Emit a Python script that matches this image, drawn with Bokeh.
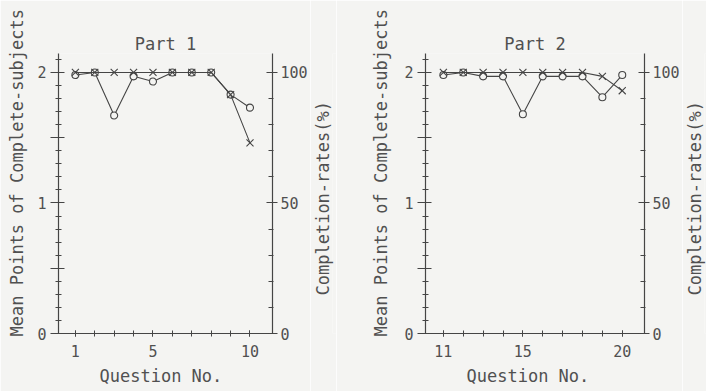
import math
from bokeh.plotting import figure
from bokeh.models import Range1d, LinearAxis, FixedTicker, Title
from bokeh.layouts import row
from bokeh.embed import file_html
from bokeh.resources import INLINE

# ---- data ----
part1_q = [1, 2, 3, 4, 5, 6, 7, 8, 9, 10]
part1_mean = [1.98, 2.0, 1.67, 1.97, 1.93, 2.0, 2.0, 2.0, 1.83, 1.73]
part1_rate = [100, 100, 100, 100, 100, 100, 100, 100, 91.5, 73]

part2_q = [11, 12, 13, 14, 15, 16, 17, 18, 19, 20]
part2_mean = [1.98, 2.0, 1.97, 1.97, 1.68, 1.97, 1.97, 1.97, 1.81, 1.98]
part2_rate = [100, 100, 100, 100, 100, 100, 100, 100, 98.5, 93]

part1_xlabels = {1: "1", 5: "5", 10: "10"}
part2_xlabels = {11: "11", 15: "15", 20: "20"}

FONT = "DejaVu Sans Mono"
TXT = "#505050"
LINE = "#454545"
BG = "#f4f4f2"
H = 391
TOP = 53
BOTTOM = 333


def text_title(text, **kw):
    return Title(text=text, text_font=FONT, text_font_size="17px",
                 text_font_style="normal", text_color=TXT, **kw)


def panel(qs, mean, rate, xlabels, title, width, win_left, frame_l, frame_r, xr, ylab_standoff):
    p = figure(width=width, height=H, output_backend="svg", toolbar_location=None,
               title=None,
               x_range=Range1d(*xr), y_range=Range1d(0, 2.145),
               min_border_left=frame_l - win_left, min_border_right=win_left + width - frame_r,
               min_border_top=TOP, min_border_bottom=H - BOTTOM,
               background_fill_color=BG, border_fill_color=BG, outline_line_color=None)
    p.grid.visible = False
    p.extra_y_ranges = {"rate": Range1d(0, 2.145 * 50)}

    # panel title, then an invisible spacer between it and the frame
    p.add_layout(text_title(title, align="center", standoff=0), "above")
    p.add_layout(Title(text=".", text_alpha=0, text_font=FONT, text_font_size="17px",
                       standoff=4), "above")

    # x axis
    xa = p.xaxis[0]
    xa.ticker = FixedTicker(ticks=list(xlabels.keys()), minor_ticks=qs)
    xa.major_label_overrides = {k: v for k, v in xlabels.items()}
    xa.major_tick_in = 3
    xa.major_tick_out = 3
    xa.minor_tick_in = 3
    xa.minor_tick_out = 3
    xa.major_label_standoff = 8

    # left axis
    ya = p.yaxis[0]
    ya.ticker = FixedTicker(ticks=[0, 0.5, 1, 1.5, 2],
                            minor_ticks=[i / 10 for i in range(0, 22)])
    ya.major_label_overrides = {0: "0", 0.5: "", 1: "1", 1.5: "", 2: "2"}
    ya.major_tick_in = 6
    ya.major_tick_out = 8
    ya.minor_tick_in = 3
    ya.minor_tick_out = 3
    ya.major_label_standoff = 4

    # right axis
    ra = LinearAxis(y_range_name="rate")
    ra.ticker = FixedTicker(ticks=[0, 50, 100], minor_ticks=list(range(0, 110, 10)))
    ra.major_tick_in = 6
    ra.major_tick_out = 5
    ra.minor_tick_in = 4
    ra.minor_tick_out = 1
    ra.major_label_standoff = 3
    p.add_layout(ra, "right")

    for ax in [xa, ya, ra]:
        ax.axis_line_color = LINE
        ax.major_tick_line_color = LINE
        ax.minor_tick_line_color = LINE
        ax.axis_line_width = 1.2
        ax.major_label_text_font = FONT
        ax.major_label_text_font_size = "15px"
        ax.major_label_text_color = TXT

    p.add_layout(text_title("Mean Points of Complete-subjects", align="left", offset=-3,
                            standoff=ylab_standoff, vertical_align="top"), "left")
    p.add_layout(text_title("Question No.", align="left", offset=41, standoff=9), "below")

    # data
    p.line(qs, mean, line_color=LINE, line_width=1.1)
    p.scatter(qs, mean, marker="circle", size=7, fill_color=BG, line_color=LINE, line_width=1.1)
    p.line(qs, rate, y_range_name="rate", line_color=LINE, line_width=1.1)
    p.scatter(qs, rate, y_range_name="rate", marker="x", size=10, line_color=LINE, line_width=1.1)
    return p


def side_label(text, width):
    # narrow strip that carries the right-hand axis title, read bottom-to-top
    s = figure(width=width, height=H, output_backend="svg", toolbar_location=None,
               x_range=Range1d(0, 1), y_range=Range1d(0, 1),
               x_axis_location=None, y_axis_location=None,
               min_border_left=0, min_border_right=0,
               min_border_top=TOP, min_border_bottom=H - BOTTOM,
               background_fill_color=BG, border_fill_color=BG, outline_line_color=None)
    s.grid.visible = False
    s.add_layout(text_title(text, align="left", offset=38, standoff=0), "left")
    return s


p1 = panel(part1_q, part1_mean, part1_rate, part1_xlabels, "Part 1", 310, 0, 56, 274,
           (0.13, 11.16), 12)
s1 = side_label("Completion-rates(%)", 26)
p2 = panel(part2_q, part2_mean, part2_rate, part2_xlabels, "Part 2", 346, 336, 425, 645,
           (10.1, 21.12), 18)
s2 = side_label("Completion-rates(%)", 24)

layout = row(p1, s1, p2, s2)
open("out.html", "w").write(file_html(layout, INLINE))
